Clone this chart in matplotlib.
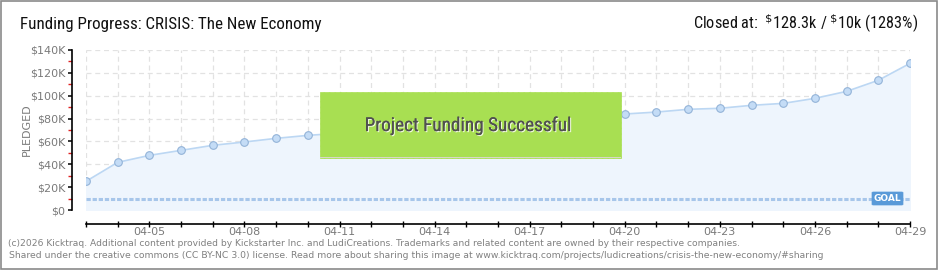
import matplotlib
matplotlib.use("Agg")
import matplotlib.pyplot as plt
from matplotlib.patches import Rectangle, FancyBboxPatch
from matplotlib.ticker import FixedLocator
from matplotlib import font_manager
import matplotlib.patheffects as pe

# ---- data ----
days = list(range(3, 30))  # April 3 .. April 29
pledged_k = [25.1, 41.7, 47.8, 52.2, 56.6, 59.5, 62.7, 65.3, 67.2, 69.3,
             71.0, 72.5, 74.0, 75.5, 77.0, 78.0, 79.0, 84.0, 85.7, 88.1,
             89.0, 91.6, 93.3, 97.7, 103.8, 113.5, 128.3]
goal_k = 10
xtick_days = list(range(5, 30, 3))
xtick_labels = [f"04-{d:02d}" for d in xtick_days]
ytick_vals = list(range(0, 141, 20))
ytick_labels = [r"\$0"] + [rf"\${v}K" for v in ytick_vals[1:]]
title = "Funding Progress: CRISIS: The New Economy"
status = r"Closed at:  $^{\$}$128.3k / $^{\$}$10k (1283%)"
banner = "Project Funding Successful"
footer1 = ("(c)2026 Kicktraq. Additional content provided by Kickstarter Inc. and LudiCreations. "
           "Trademarks and related content are owned by their respective companies.")
footer2 = ("Shared under the creative commons (CC BY-NC 3.0) license. Read more about sharing this image at "
           "www.kicktraq.com/projects/ludicreations/crisis-the-new-economy/#sharing")

W, H = 940, 270
fig = plt.figure(figsize=(W / 100, H / 100), dpi=100)
fig.patch.set_facecolor("white")

names = {f.name for f in font_manager.fontManager.ttflist}
narrow = "DejaVu Sans"
for cand in ["Liberation Sans Narrow", "DejaVu Sans Condensed", "Roboto Condensed", "Open Sans Condensed"]:
    if cand in names:
        narrow = cand
        break

def fx(px):
    return px / W

def fy(py):
    return 1 - py / H

renderer = fig.canvas.get_renderer()

def fit(t, width_px):
    bb = t.get_window_extent(renderer=renderer)
    t.set_fontsize(t.get_fontsize() * width_px / bb.width)

# axes: x 86..910, y 50..210
ax = fig.add_axes([fx(86), fy(210), fx(910) - fx(86), fy(50) - fy(210)])
ax.set_xlim(3, 29)
ax.set_ylim(0, 140)
ax.set_facecolor("none")

for d in days:
    ax.axvline(d, color="#e2e2e2", lw=0.9, ls=(0, (4, 3)), zorder=0)
for v in ytick_vals:
    ax.axhline(v, color="#e2e2e2", lw=0.9, ls=(0, (4, 3)), zorder=0)

ax.fill_between(days, pledged_k, 0, color="#eef5fd", zorder=1)
ax.plot(days, pledged_k, color="#bcd7f3", lw=1.2, zorder=2)
ax.plot(days, pledged_k, ls="none", marker="o", ms=5.5, mfc="#c4dcf6",
        mec="#93b3d8", mew=0.8, zorder=3)

ax.plot([3, 29], [goal_k, goal_k], color="#a7c6ea", lw=2.2,
        ls=(0, (1.4, 0.6)), zorder=2, dash_capstyle="butt")

for s in ["top", "right"]:
    ax.spines[s].set_visible(False)
ax.spines["left"].set_position(("outward", 10))
ax.spines["bottom"].set_position(("outward", 10))
ax.spines["left"].set_bounds(0, 140)
ax.spines["bottom"].set_bounds(3, 29)
ax.spines["left"].set_linewidth(1.2)
ax.spines["bottom"].set_linewidth(1.2)

ax.yaxis.set_major_locator(FixedLocator(ytick_vals))
ax.set_yticklabels(ytick_labels)
ax.yaxis.set_minor_locator(FixedLocator(list(range(10, 140, 20))))
ax.tick_params(axis="y", which="major", direction="out", length=3, width=1.1,
               color="black", labelsize=8, labelcolor="#7a7a7a", pad=2)
ax.tick_params(axis="y", which="minor", direction="out", length=3, width=1.0,
               color="#e02020")

ax.xaxis.set_major_locator(FixedLocator(xtick_days))
ax.set_xticklabels(xtick_labels)
ax.xaxis.set_minor_locator(FixedLocator(days))
ax.tick_params(axis="x", which="both", direction="inout", length=4.5, width=1.0,
               color="black", labelsize=8, labelcolor="#7a7a7a", pad=0)

fig.text(fx(27), fy(130), "PLEDGED", rotation=90, fontsize=8, color="#7a7a7a",
         ha="center", va="center")

# goal badge
badge = FancyBboxPatch((fx(872), fy(205)), fx(903) - fx(872), fy(192) - fy(205),
                       boxstyle="round,pad=0,rounding_size=0.002",
                       transform=fig.transFigure, facecolor="#5a9ad8",
                       edgecolor="#5a9ad8", lw=0.5, zorder=5)
fig.add_artist(badge)
fig.text(fx(887.5), fy(198.8), "GOAL", color="white", fontsize=6.5,
         ha="center", va="center", zorder=6, fontweight="bold")

# success banner
plt.rcParams["hatch.color"] = "#9fd44a"
plt.rcParams["hatch.linewidth"] = 0.6
rect = Rectangle((fx(320), fy(158)), fx(621) - fx(320), fy(92) - fy(158),
                 transform=fig.transFigure, facecolor="#a8df52",
                 edgecolor="#a8df52", hatch="//////", lw=0.5, zorder=7)
fig.add_artist(rect)
fig.add_artist(Rectangle((fx(320), fy(158)), fx(621) - fx(320), fy(156.5) - fy(158),
                         transform=fig.transFigure, facecolor="#d7d7c8",
                         edgecolor="none", zorder=7.5))
bt = fig.text(fx(468), fy(126), banner, fontsize=13, color="#505050",
              ha="center", va="center", zorder=8, family=narrow, fontstretch="condensed",
              path_effects=[pe.withSimplePatchShadow(offset=(0.8, -0.8), shadow_rgbFace="white", alpha=0.8),
                            pe.Normal()])
fit(bt, 206)

# titles
tt = fig.text(fx(20), fy(24), title, fontsize=13, color="#111111",
              ha="left", va="center", family=narrow, fontstretch="condensed")
fit(tt, 300)
st = fig.text(fx(918), fy(24), status, fontsize=13, color="#111111",
              ha="right", va="center", family=narrow, fontstretch="condensed")
fit(st, 224)

# footer
f1 = fig.text(fx(8), fy(243), footer1, fontsize=7, color="#808080", ha="left", va="center")
fit(f1, 735)
f2 = fig.text(fx(9), fy(256), footer2, fontsize=7, color="#808080", ha="left", va="center")
fit(f2, 819)

# border
fig.add_artist(Rectangle((fx(0.5), fy(268.5)), fx(937) - fx(0.5), fy(0.5) - fy(268.5),
                         transform=fig.transFigure, facecolor="none",
                         edgecolor="#8a8a8a", lw=1.2, zorder=10))

fig.savefig("out.png", dpi=100)
